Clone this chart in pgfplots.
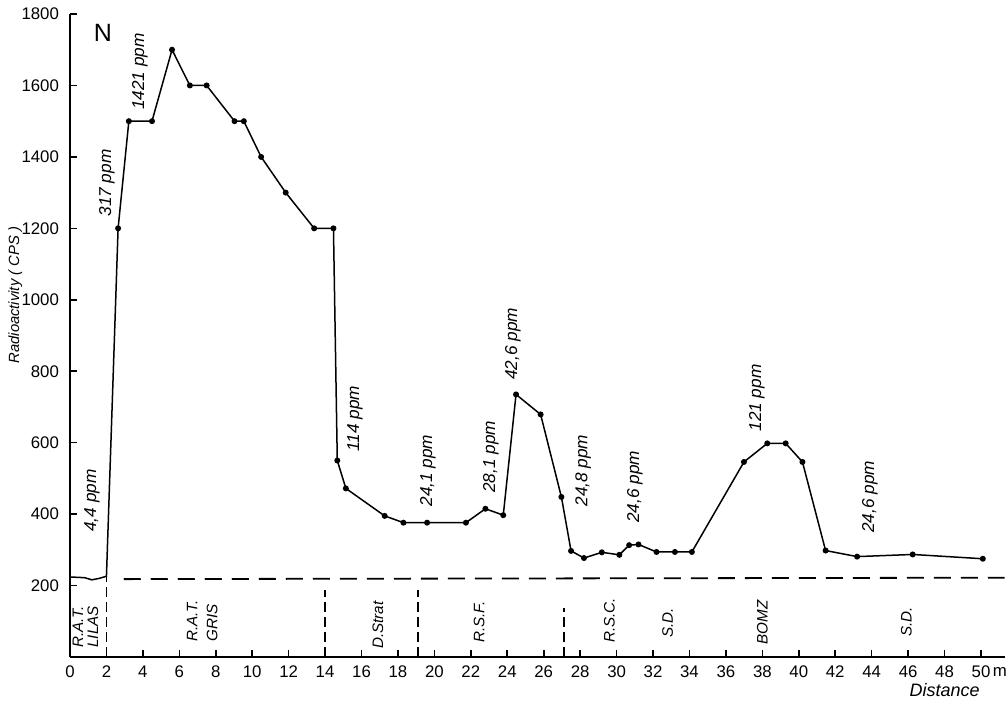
\documentclass[border=0pt]{standalone}
\usepackage{fontspec}
\setmainfont{Liberation Sans}
\setsansfont{Liberation Sans}
\usepackage{pgfplots}
\pgfplotsset{compat=1.18}
\begin{document}
\begin{tikzpicture}
\useasboundingbox (0,0) rectangle (504pt,352pt);
\begin{axis}[
  at={(35pt,23.5pt)}, anchor=origin,
  x=9.11pt, y=0.1786pt,
  xmin=0, xmax=51.3, ymin=0, ymax=1800,
  axis x line=bottom, axis y line=left,
  axis line style={-, line width=0.9pt},
  xtick={0,2,...,50}, ytick={200,400,...,1800},
  tick align=inside, major tick length=3.5pt,
  tick style={line width=0.8pt, black},
  scaled ticks=false,
  /pgf/number format/assume math mode=true,
  /pgf/number format/1000 sep={},
  ticklabel style={font=\fontsize{8.4}{10}\selectfont},
  yticklabel style={xshift=-2pt},
  xticklabel style={yshift=-1pt},
  clip=false,
]
% solid beginning segment (no marks)
\addplot[black, line width=0.75pt, no marks] coordinates {
 (0,224) (0.8,222) (1.2,216) (1.6,220) (2,226) (2.64,1200)};
% measured profile
\addplot[black, line width=0.75pt, mark=*, mark size=1.1pt] coordinates {
 (2.64,1200) (3.23,1500) (4.5,1500) (5.6,1700) (6.58,1600) (7.5,1600)
 (9.03,1500) (9.54,1500) (10.49,1400) (11.84,1300) (13.4,1200) (14.46,1200)
 (14.67,550) (15.14,472) (17.27,395) (18.3,376) (19.6,376) (21.73,376)
 (22.8,415) (23.78,397) (24.48,735) (25.83,679) (26.97,448) (27.5,297)
 (28.21,277) (29.19,293) (30.15,286) (30.69,313) (31.2,315) (32.19,294)
 (33.2,294) (34.13,294) (36.99,546) (38.27,598) (39.28,598) (40.2,546)
 (41.47,298) (43.2,281) (46.25,287) (50.1,275)};
% background level (dashed)
\addplot[black, line width=0.9pt, no marks, dash pattern=on 8.5pt off 5pt] coordinates {
 (2.95,218) (51.3,222)};
% zone boundaries
\addplot[black, line width=0.8pt, no marks, dash pattern=on 5pt off 2.5pt] coordinates {(2,0) (2,224)};
\addplot[black, line width=0.8pt, no marks, dash pattern=on 5pt off 2.5pt] coordinates {(14,0) (14,187)};
\addplot[black, line width=0.8pt, no marks, dash pattern=on 5pt off 2.5pt] coordinates {(19.1,0) (19.1,187)};
\addplot[black, line width=0.8pt, no marks, dash pattern=on 5pt off 2.5pt] coordinates {(27.1,0) (27.1,137)};
% ppm labels
\begin{scope}[every node/.style={rotate=90, anchor=west, inner sep=0pt, font=\itshape\fontsize{8.6}{9}\selectfont}]
\node at (axis cs:1.21,350) {4,4 ppm};
\node at (axis cs:2.03,1232) {317 ppm};
\node at (axis cs:3.84,1531) {1421 ppm};
\node at (axis cs:15.64,574) {114 ppm};
\node at (axis cs:19.65,420) {24,1 ppm};
\node at (axis cs:23.1,459) {28,1 ppm};
\node at (axis cs:24.31,775) {42,6 ppm};
\node at (axis cs:28.16,420) {24,8 ppm};
\node at (axis cs:31.0,375) {24,6 ppm};
\node at (axis cs:37.7,630) {121 ppm};
\node at (axis cs:43.9,347) {24,6 ppm};
\end{scope}
% zone labels
\begin{scope}[every node/.style={rotate=90, anchor=west, inner sep=0pt, font=\itshape\fontsize{7.6}{8}\selectfont}]
\node at (axis cs:0.44,25) {R.A.T.};
\node at (axis cs:1.26,25) {LILAS};
\node at (axis cs:6.7,42) {R.A.T.};
\node at (axis cs:7.8,42) {GRIS};
\node at (axis cs:16.9,22) {D.Strat};
\node at (axis cs:22.45,39) {R.S.F.};
\node at (axis cs:29.6,39) {R.S.C.};
\node at (axis cs:32.8,53) {S.D.};
\node at (axis cs:38.0,34) {BOMZ};
\node at (axis cs:45.9,56) {S.D.};
\end{scope}
% axis labels
\node[rotate=90, inner sep=0pt, font=\itshape\fontsize{7.4}{8}\selectfont] at (axis cs:-3.0,1013) {Radioactivity ( CPS )};
\node[font=\itshape\fontsize{9}{9}\selectfont] at (axis cs:48.0,-92) {Distance};
\node[anchor=east, inner sep=0pt, font=\fontsize{8.4}{9}\selectfont] at (axis cs:51.44,-42) {m};
\node[font=\fontsize{12.5}{13}\selectfont] at (axis cs:1.81,1747) {N};
\end{axis}
\end{tikzpicture}
\end{document}
